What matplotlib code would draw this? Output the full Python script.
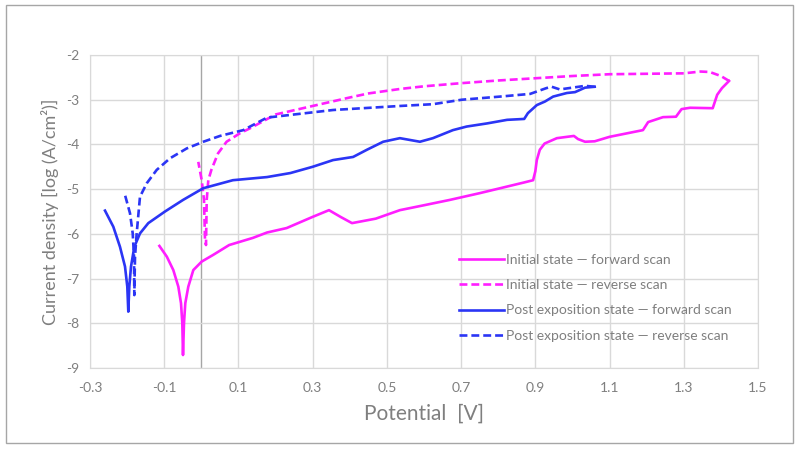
import matplotlib
matplotlib.use('Agg')
import matplotlib.pyplot as plt
from matplotlib.patches import Rectangle

plt.rcParams['font.family'] = ['Lato', 'DejaVu Sans']
plt.rcParams['axes.unicode_minus'] = False

# initial state, forward scan
x_init_fwd = [-0.113, -0.093, -0.0755, -0.062, -0.0548, -0.0513, -0.0494, -0.0467, -0.0432, -0.0351,
              -0.0216, 0.001, 0.032, 0.075, 0.139, 0.177, 0.23, 0.30, 0.344, 0.375,
              0.406, 0.47, 0.535, 0.60, 0.67, 0.75, 0.82, 0.87, 0.894, 0.900,
              0.904, 0.912, 0.925, 0.958, 1.004, 1.015, 1.034, 1.06, 1.10, 1.19,
              1.204, 1.244, 1.279, 1.294, 1.317, 1.378, 1.39, 1.403, 1.422]
y_init_fwd = [-6.27, -6.51, -6.81, -7.18, -7.55, -7.99, -8.71, -7.99, -7.55, -7.18,
              -6.81, -6.62, -6.47, -6.25, -6.09, -5.97, -5.87, -5.62, -5.47, -5.62,
              -5.76, -5.66, -5.47, -5.36, -5.24, -5.09, -4.95, -4.85, -4.80, -4.60,
              -4.35, -4.12, -3.98, -3.86, -3.81, -3.88, -3.94, -3.93, -3.83, -3.68,
              -3.50, -3.39, -3.38, -3.21, -3.18, -3.19, -2.89, -2.74, -2.58]

# initial state, reverse scan
x_init_rev = [1.422, 1.40, 1.37, 1.345, 1.30, 1.20, 1.10, 1.00, 0.90, 0.80,
              0.70, 0.60, 0.535, 0.45, 0.40, 0.30, 0.20, 0.131, 0.104, 0.068,
              0.045, 0.027, 0.0188, 0.0145, 0.0126, 0.0099, 0.0072, 0.001, -0.0082]
y_init_rev = [-2.58, -2.47, -2.38, -2.37, -2.41, -2.42, -2.43, -2.47, -2.52, -2.57,
              -2.63, -2.70, -2.76, -2.86, -2.95, -3.14, -3.33, -3.64, -3.75, -3.94,
              -4.20, -4.57, -4.80, -5.24, -6.25, -6.14, -5.24, -4.80, -4.39]

# post exposition state, forward scan
x_post_fwd = [-0.2596, -0.2372, -0.2192, -0.2057, -0.1995, -0.1968, -0.1941, -0.1895, -0.1806, -0.1653,
              -0.1429, -0.0979, -0.049, 0.005, 0.085, 0.177, 0.24, 0.30, 0.355, 0.409,
              0.446, 0.49, 0.535, 0.589, 0.624, 0.678, 0.715, 0.77, 0.824, 0.87,
              0.88, 0.904, 0.926, 0.948, 0.985, 1.007, 1.034, 1.06]
y_post_fwd = [-5.48, -5.84, -6.29, -6.73, -7.18, -7.74, -7.18, -6.73, -6.29, -5.99,
              -5.76, -5.50, -5.24, -4.98, -4.80, -4.73, -4.64, -4.50, -4.35, -4.28,
              -4.12, -3.94, -3.86, -3.94, -3.86, -3.68, -3.60, -3.53, -3.45, -3.43,
              -3.30, -3.12, -3.04, -2.93, -2.85, -2.83, -2.73, -2.71]

# post exposition state, reverse scan
x_post_rev = [1.06, 1.034, 0.966, 0.944, 0.93, 0.886, 0.805, 0.702, 0.624, 0.535,
              0.355, 0.177, 0.1131, 0.0503, 0.0053, -0.0394, -0.0844, -0.1203, -0.1472, -0.1653,
              -0.1742, -0.1787, -0.1806, -0.1814, -0.1849, -0.1922, -0.2057]
y_post_rev = [-2.71, -2.69, -2.77, -2.71, -2.74, -2.87, -2.93, -3.00, -3.10, -3.14,
              -3.23, -3.40, -3.68, -3.81, -3.94, -4.09, -4.31, -4.57, -4.87, -5.17,
              -5.99, -6.51, -7.37, -6.51, -5.99, -5.54, -5.13]

labels = ['Initial state \u2014 forward scan',
          'Initial state \u2014 reverse scan',
          'Post exposition state \u2014 forward scan',
          'Post exposition state \u2014 reverse scan']

x_ticks = [-0.3, -0.1, 0.1, 0.3, 0.5, 0.7, 0.9, 1.1, 1.3, 1.5]
y_ticks = [-9, -8, -7, -6, -5, -4, -3, -2]

magenta = '#FF1EFF'
blue = '#2B35F5'
grey = '#7F7F7F'
lw = 1.9
dash = (3, 1.5)

fig = plt.figure(figsize=(7.99, 4.5), dpi=100)
ax = fig.add_axes([90/799, 1-368/450, 668/799, 313/450])

ax.plot(x_init_fwd, y_init_fwd, color=magenta, lw=lw, label=labels[0])
ax.plot(x_init_rev, y_init_rev, color=magenta, lw=lw, dashes=dash, label=labels[1])
ax.plot(x_post_fwd, y_post_fwd, color=blue, lw=lw, label=labels[2])
ax.plot(x_post_rev, y_post_rev, color=blue, lw=lw, dashes=dash, label=labels[3])

ax.set_xlim(-0.3, 1.5)
ax.set_ylim(-9, -2)
ax.set_xticks(x_ticks)
ax.set_xticklabels([f'{v:g}' for v in x_ticks])
ax.set_yticks(y_ticks)
ax.grid(True, color='#D9D9D9', lw=1)
ax.set_axisbelow(True)
ax.axvline(0, color='#A6A6A6', lw=1, zorder=0.5)
for s in ax.spines.values():
    s.set_color('#D9D9D9')
ax.tick_params(axis='x', length=0, labelsize=10, colors=grey, pad=10)
ax.tick_params(axis='y', length=0, labelsize=10, colors=grey, pad=8)

ax.set_xlabel('Potential  [V]', fontsize=15, color=grey, labelpad=7)
ax.set_ylabel('Current density [log (A/cm\u00b2)]', fontsize=13, color=grey, labelpad=5)

leg = ax.legend(loc='upper left', bbox_to_anchor=(0.534, 0.404), frameon=False,
                fontsize=10, handlelength=3.2, handletextpad=0.2, labelspacing=0.95)
for t in leg.get_texts():
    t.set_color(grey)

fig.patches.append(Rectangle((6/799, 1-443/450), 787/799, 438/450, transform=fig.transFigure,
                             fill=False, edgecolor='#A6A6A6', lw=1))

fig.savefig('out.png', dpi=100)
